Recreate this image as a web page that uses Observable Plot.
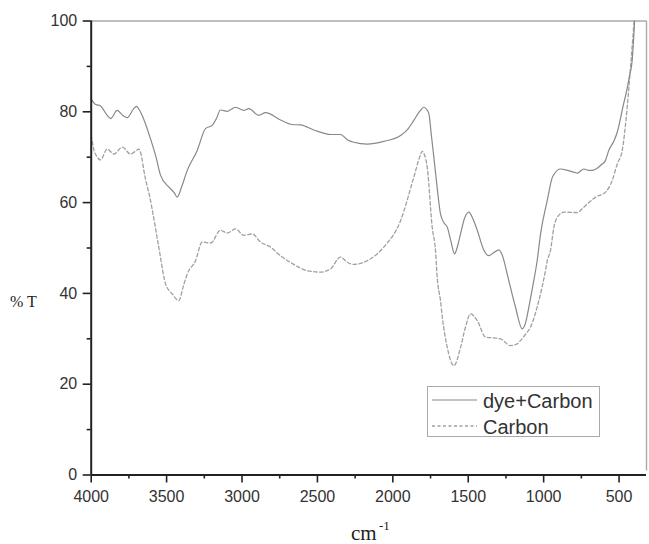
<!DOCTYPE html>
<html>
<head>
<meta charset="utf-8">
<script src="https://cdn.jsdelivr.net/npm/d3@7"></script>
<script src="https://cdn.jsdelivr.net/npm/@observablehq/plot@0.6"></script>
<style>
  body { margin: 0; background: #fff; }
  #wrap { position: relative; width: 649px; height: 544px; overflow: hidden; }
  .abs { position: absolute; white-space: nowrap; line-height: 1; }
</style>
</head>
<body>
<div id="wrap"></div>
<script>
// wavenumber (cm^-1) and %T for "dye+Carbon"
const dyeWn = [4000,3970,3938,3900,3871,3828,3790,3761,3720,3700,3680,3662,3607,3570,3540,3485,3450,3430,3400,3363,3297,3242,3198,3170,3143,3098,3043,2988,2955,2889,2844,2745,2667,2612,2524,2413,2347,2300,2259,2170,2060,1949,1900,1861,1820,1795,1775,1761,1745,1728,1705,1684,1660,1639,1615,1591,1570,1551,1525,1496,1470,1440,1400,1364,1330,1297,1270,1242,1187,1142,1120,1098,1070,1043,1021,976,943,932,888,840,800,777,733,700,678,612,590,568,535,512,468,457,430,413,397];
const dyeT  = [82.8,81.6,81.3,79.5,78.5,80.3,79.2,78.7,80.6,81.2,80.4,79.2,74.1,70,66,63.4,62.2,61.2,63.5,67.1,71.5,76.3,77,78.5,80.4,80.1,81,80.3,80.7,79.2,79.8,78.2,77.2,77.1,76,75,75,73.8,73.3,72.9,73.5,74.8,76.2,78.1,80.2,81,80.5,79.6,75,70,63,57.5,55.5,54.6,51.5,48.7,50.5,53.1,56.5,57.9,56.5,53.9,49.8,48.3,49,49.6,48,44.3,37,32.2,33.5,37,42,47.2,53,60.5,65.5,66.2,67.4,67.1,66.7,66.5,67.4,67.1,67.1,68.5,69.3,71.5,73.5,75.5,82,83.5,88,91.3,100];

// wavenumber (cm^-1) and %T for "Carbon"
const carbWn = [4000,3985,3960,3938,3894,3850,3794,3739,3700,3684,3665,3651,3607,3552,3507,3463,3430,3419,3390,3363,3308,3264,3208,3143,3098,3043,2988,2932,2877,2811,2745,2657,2568,2480,2413,2347,2300,2259,2170,2060,1949,1861,1820,1806,1790,1772,1739,1717,1706,1684,1672,1639,1595,1551,1518,1485,1440,1386,1331,1286,1220,1180,1154,1120,1087,1032,988,976,955,932,900,866,777,740,711,656,590,545,512,479,446,424,400];
const carbT  = [74.8,72,70,69.4,71.8,70.7,72.2,70.7,71.5,71.8,70,67.1,60.5,50.2,42.1,39.9,38.6,38.4,41.5,44.3,47.2,51.3,51.1,53.9,53.3,54.2,52.8,53.1,51.3,50.2,48.3,46.4,45,44.7,45.4,48,46.8,46.4,47.2,50.2,56,65.6,70.2,71.3,70.5,67.8,54.6,49.4,43.6,38.4,34.8,28.1,24.1,28.1,32.6,35.5,34,30.4,30.2,30,28.5,28.8,29.6,31,32.6,38.4,45,47.2,49.4,54.6,57.2,57.9,57.8,58.8,59.7,61.2,62.3,64.9,68.5,71.5,81,89.8,100];

const seriesNames = ["dye+Carbon", "Carbon"];
const xMajor = [4000,3500,3000,2500,2000,1500,1000,500];
const xMinor = [3750,3250,2750,2250,1750,1250,750];
const yMajor = [0,20,40,60,80,100];
const yMinor = [10,30,50,70,90];
const xDomain = [4000, 318];
const yDomain = [0, 100];
const yLabel = "% T";
const xLabel = "cm";
const xLabelSup = "-1";

const dyeData = dyeWn.map((w, i) => ({w, t: dyeT[i]}));
const carbData = carbWn.map((w, i) => ({w, t: carbT[i]}));

const axisColor = "#222";
const solidColor = "#888";
const dashColor = "#a0a0a0";
const chart = Plot.plot({
  width: 649,
  height: 544,
  marginLeft: 90.7,
  marginRight: 3,
  marginTop: 20.5,
  marginBottom: 69.5,
  style: {fontFamily: "'Liberation Sans', Arial, sans-serif", fontSize: "16px", color: "#333", background: "#fff"},
  x: {domain: xDomain, label: null},
  y: {domain: yDomain, label: null},
  marks: [
    Plot.ruleY([yDomain[1]], {stroke: "#aaa", strokeWidth: 1.6}),
    Plot.ruleX([xDomain[1]], {y1: yDomain[0], y2: yDomain[1], insetTop: -4, stroke: "#aaa", strokeWidth: 1.4}),
    Plot.line(carbData, {x: "w", y: "t", curve: "monotone-x", stroke: dashColor, strokeWidth: 1.3, strokeDasharray: "3.5,2.5"}),
    Plot.line(dyeData, {x: "w", y: "t", curve: "monotone-x", stroke: solidColor, strokeWidth: 1.2}),
    Plot.axisX(xMajor, {tickSize: 8, tickPadding: 7.5, fontSize: 16, stroke: axisColor, strokeWidth: 1.6, fill: "#333", label: null, tickFormat: d => String(d)}),
    Plot.axisX(xMinor, {tickSize: 4, stroke: axisColor, strokeWidth: 1.6, label: null, tickFormat: () => ""}),
    Plot.axisY(yMajor, {tickSize: 8, tickPadding: 6, fontSize: 16, stroke: axisColor, strokeWidth: 1.6, fill: "#333", label: null, tickFormat: d => String(d)}),
    Plot.axisY(yMinor, {tickSize: 4, stroke: axisColor, strokeWidth: 1.6, label: null, tickFormat: () => ""}),
    Plot.ruleY([yDomain[0]], {stroke: axisColor, strokeWidth: 2}),
    Plot.ruleX([xDomain[0]], {y1: yDomain[0], y2: yDomain[1], stroke: axisColor, strokeWidth: 2})
  ]
});

const wrap = document.getElementById("wrap");
wrap.appendChild(chart);

function addDiv(html, css) {
  const d = document.createElement("div");
  d.className = "abs";
  d.innerHTML = html;
  Object.assign(d.style, css);
  wrap.appendChild(d);
  return d;
}

const serif = "'Liberation Serif', 'Times New Roman', serif";
// y label
addDiv(yLabel, {left: "10px", top: "294px", fontFamily: serif, fontSize: "16px", color: "#222"});
// x label
addDiv(xLabel, {left: "351px", top: "523px", fontFamily: serif, fontSize: "21px", color: "#222"});
addDiv(xLabelSup, {left: "379px", top: "519px", fontFamily: serif, fontSize: "13px", color: "#222"});

// legend
const leg = addDiv("", {left: "426.5px", top: "386px", width: "173px", height: "51px", border: "1px solid #aaa", background: "#fff", boxSizing: "border-box"});
const legSvg = d3.create("svg").attr("width", 173).attr("height", 51).style("position", "absolute").style("left", "-1px").style("top", "-1px");
legSvg.append("line").attr("x1", 5).attr("x2", 50).attr("y1", 14).attr("y2", 14).attr("stroke", solidColor).attr("stroke-width", 1.2);
legSvg.append("line").attr("x1", 5).attr("x2", 50).attr("y1", 40).attr("y2", 40).attr("stroke", dashColor).attr("stroke-width", 1.3).attr("stroke-dasharray", "3,2.5");
leg.appendChild(legSvg.node());
const fontLeg = {fontFamily: "'Liberation Sans', Arial, sans-serif", fontSize: "20px", color: "#333"};
addDiv(seriesNames[0], Object.assign({left: "483px", top: "391px"}, fontLeg));
addDiv(seriesNames[1], Object.assign({left: "483px", top: "417px"}, fontLeg));
</script>
</body>
</html>
